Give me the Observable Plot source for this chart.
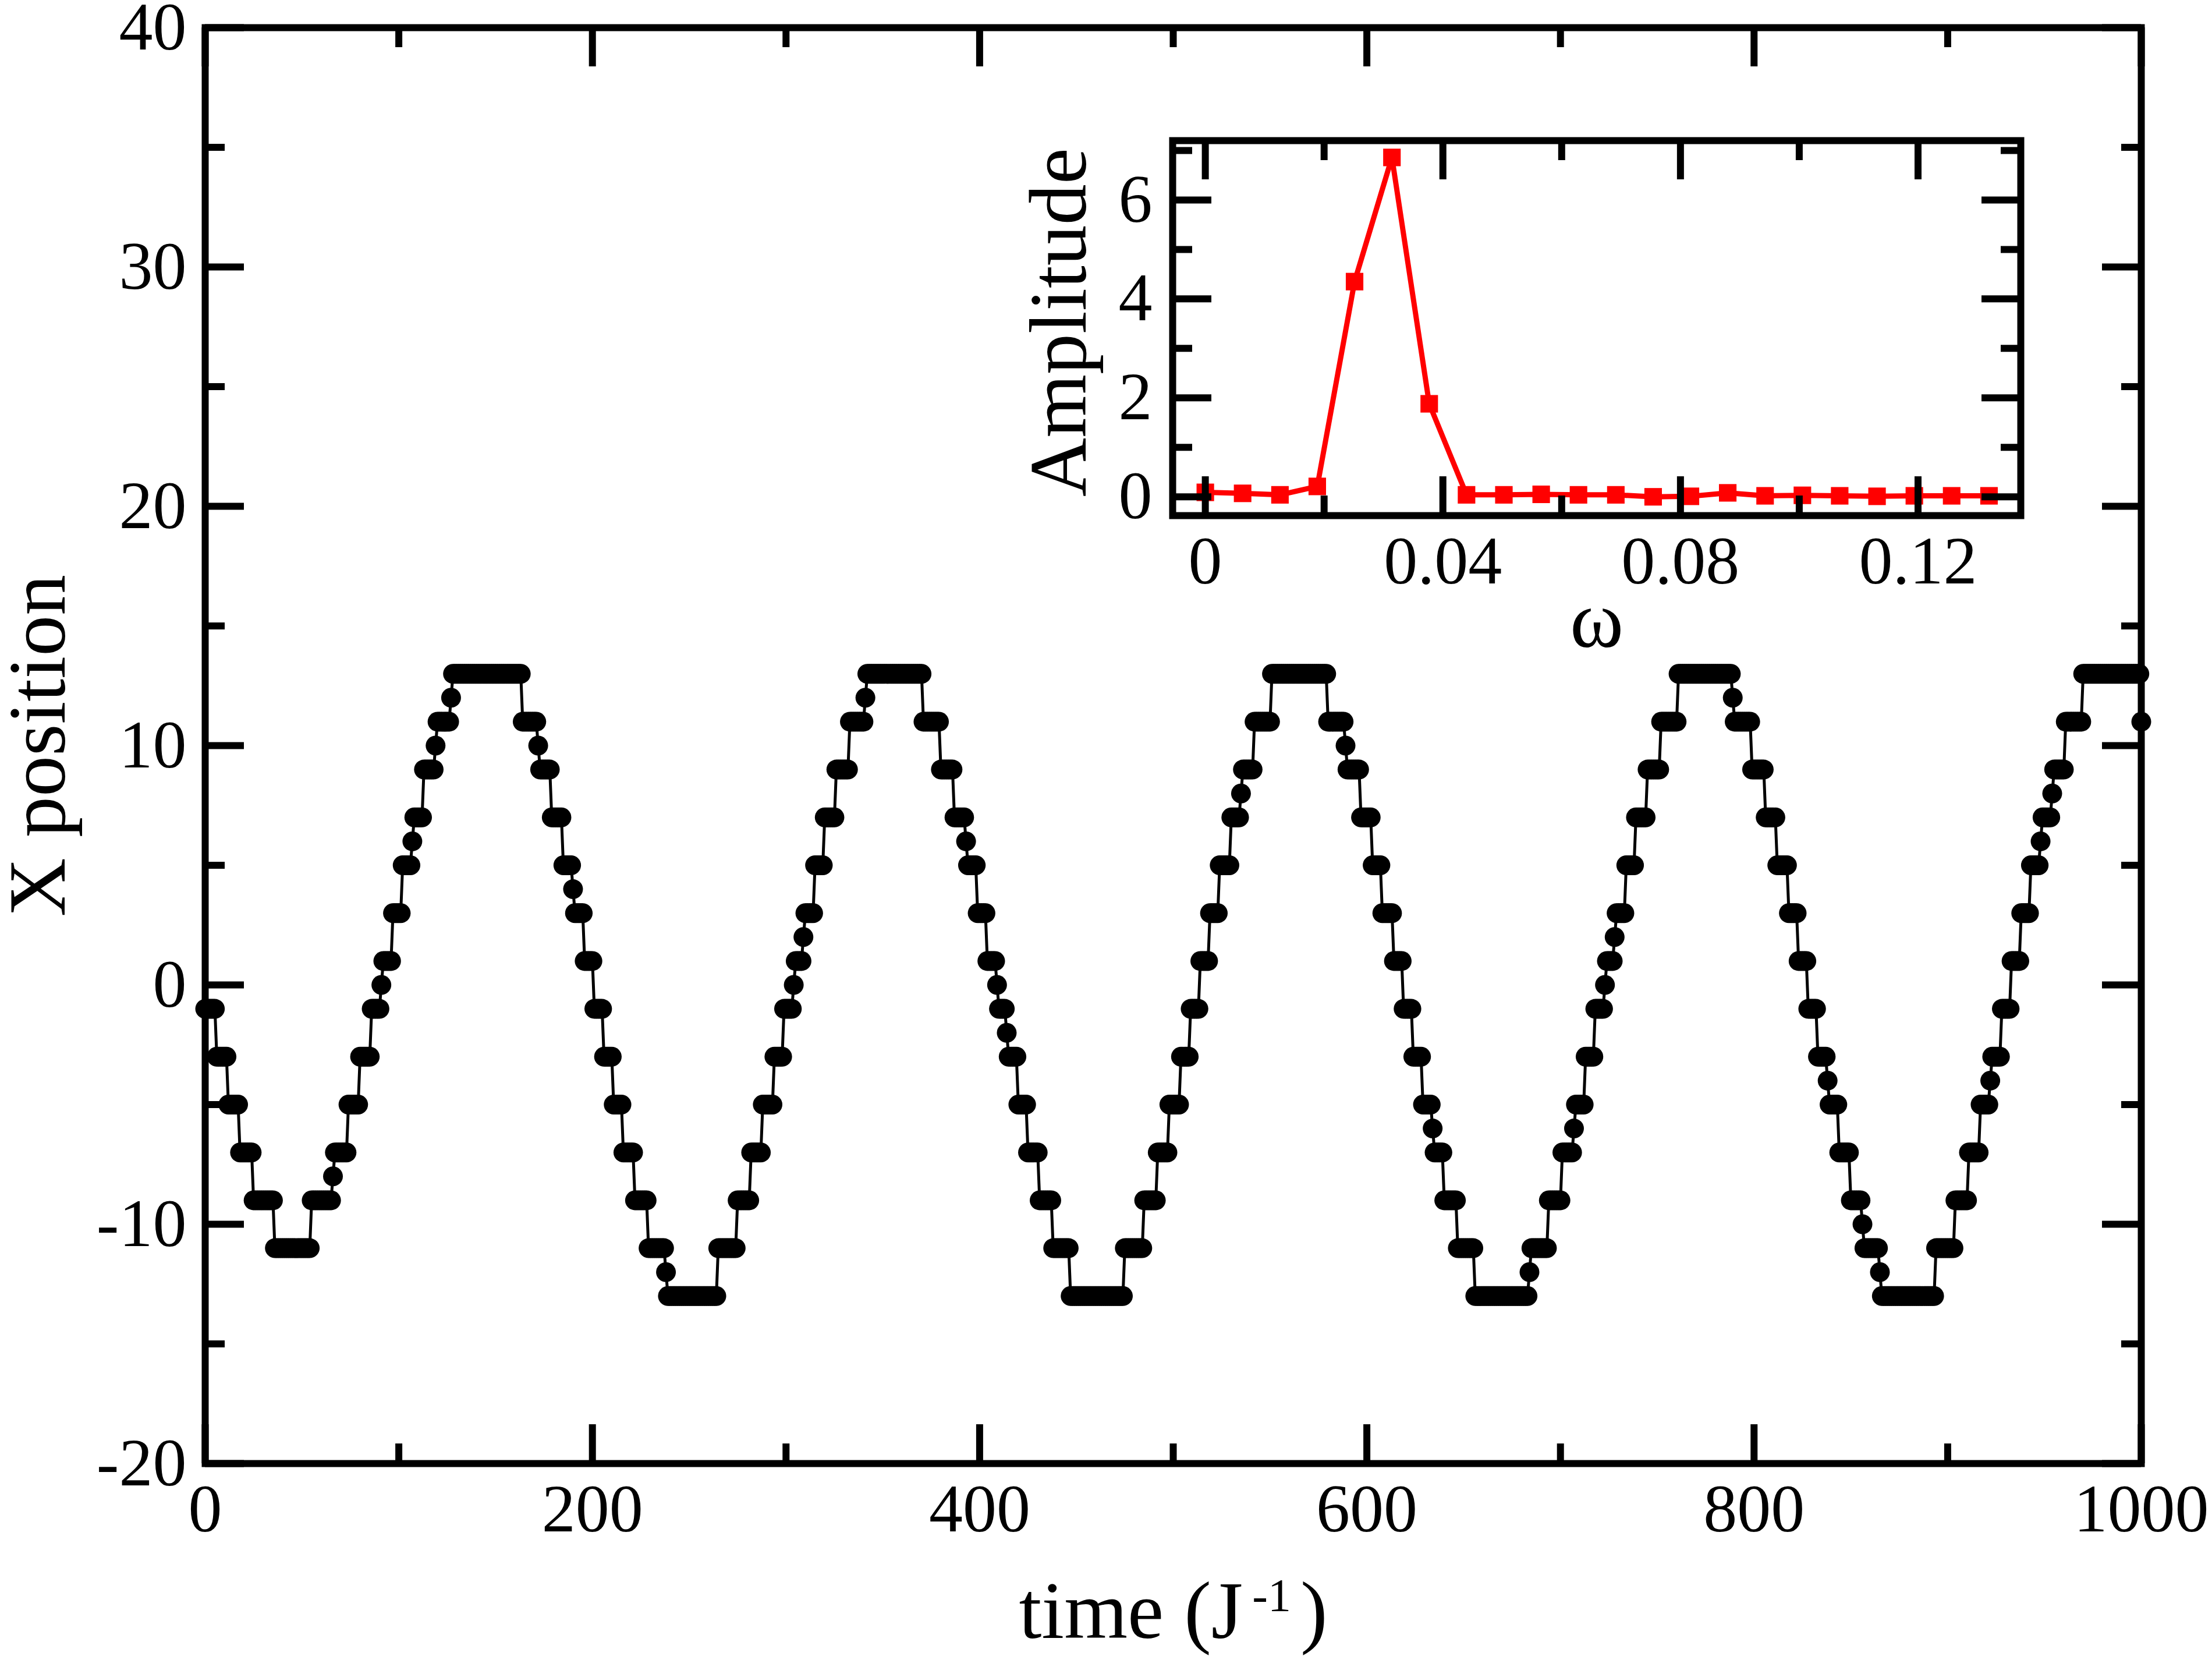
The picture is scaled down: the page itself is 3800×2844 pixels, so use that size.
<!DOCTYPE html>
<html>
<head>
<meta charset="utf-8">
<script src="https://cdn.jsdelivr.net/npm/d3@7"></script>
<script src="https://cdn.jsdelivr.net/npm/@observablehq/plot@0.6"></script>
<style>
  html, body { margin: 0; padding: 0; background: #fff; }
  #chart { position: relative; width: 3800px; height: 2844px; background: #fff; }
  #inset { position: absolute; left: 1700px; top: 150px; }
</style>
</head>
<body>
<div id="chart"></div>
<script>
// Trajectory of the X position, run-length encoded:
// the position holds runLevel[i] from time runStart[i] until the next run starts.
const runStart = [
  0, 6, 12, 18, 25, 36, 55, 66, 67, 74, 80, 86, 91, 92, 97, 102, 107, 108, 113, 119, 120, 127, 128,
  164, 172, 173, 179, 185, 190, 191, 196, 201, 206, 211, 216, 222, 229, 238, 239,
  265, 275, 282, 288, 294, 299, 304, 305, 309, 310, 315, 320, 326, 333, 341, 342,
  371, 380, 387, 393, 394, 399, 404, 409, 410, 414, 415, 420, 425, 431, 438, 447,
  475, 485, 492, 498, 504, 509, 514, 519, 524, 530, 535, 536, 542, 551,
  580, 589, 590, 597, 603, 608, 614, 619, 624, 629, 634, 635, 640, 647, 656,
  684, 685, 694, 701, 707, 708, 713, 718, 723, 724, 728, 729, 734, 739, 745, 752, 761,
  789, 790, 799, 806, 812, 818, 823, 828, 833, 838, 839, 844, 850, 856, 857, 865, 866,
  894, 904, 911, 917, 922, 923, 928, 933, 938, 943, 948, 949, 954, 955, 961, 970, 1000
];
const runLevel = [
  -1, -3, -5, -7, -9, -11, -9, -8, -7, -5, -3, -1, 0, 1, 3, 5, 6, 7, 9, 10, 11, 12, 13,
  11, 10, 9, 7, 5, 4, 3, 1, -1, -3, -5, -7, -9, -11, -12, -13,
  -11, -9, -7, -5, -3, -1, 0, 1, 2, 3, 5, 7, 9, 11, 12, 13,
  11, 9, 7, 6, 5, 3, 1, 0, -1, -2, -3, -5, -7, -9, -11, -13,
  -11, -9, -7, -5, -3, -1, 1, 3, 5, 7, 8, 9, 11, 13,
  11, 10, 9, 7, 5, 3, 1, -1, -3, -5, -6, -7, -9, -11, -13,
  -12, -11, -9, -7, -6, -5, -3, -1, 0, 1, 2, 3, 5, 7, 9, 11, 13,
  12, 11, 9, 7, 5, 3, 1, -1, -3, -4, -5, -7, -9, -10, -11, -12, -13,
  -11, -9, -7, -5, -4, -3, -1, 1, 3, 5, 6, 7, 8, 9, 11, 13, 11
];
const timeEnd = 1000;

// Fourier spectrum of the trajectory (inset)
const omega = [0, 0.00628, 0.01257, 0.01885, 0.02513, 0.03142, 0.03770, 0.04398, 0.05027, 0.05655, 0.06283,
  0.06912, 0.07540, 0.08168, 0.08796, 0.09425, 0.10053, 0.10681, 0.11310, 0.11938, 0.12566, 0.13195];
const amplitude = [0.09, 0.07, 0.04, 0.21, 4.35, 6.86, 1.88, 0.04, 0.04, 0.05, 0.04,
  0.04, 0.0, 0.01, 0.08, 0.02, 0.03, 0.02, 0.01, 0.02, 0.02, 0.02];

// Axis ticks
const timeMajor = [0, 200, 400, 600, 800, 1000];
const timeMinor = [100, 300, 500, 700, 900];
const posMajor = [-20, -10, 0, 10, 20, 30, 40];
const posMinor = [-15, -5, 5, 15, 25, 35];
const omegaMajor = [0, 0.04, 0.08, 0.12];
const omegaMinor = [0.02, 0.06, 0.10];
const ampMajor = [0, 2, 4, 6];
const ampMinor = [1, 3, 5, 7];

// One sample per time unit
const trajectory = [];
for (let i = 0; i < runStart.length; i++) {
  const stop = i + 1 < runStart.length ? runStart[i + 1] - 1 : timeEnd;
  for (let t = runStart[i]; t <= stop; t++) trajectory.push({t, x: runLevel[i]});
}
const spectrum = omega.map((w, i) => ({w, a: amplitude[i]}));

const FONT = "'Liberation Serif', 'Times New Roman', serif";
const LINE = 12;      // frame and tick stroke width
const MAJOR = 67;     // major tick length
const MINOR = 34;     // minor tick length

// Ticks drawn inward on all four sides of the frame
function inwardTicks(xMaj, xMin, yMaj, yMin, plotW, plotH) {
  const tx = (vals, len) => [
    Plot.tickX(vals, {x: d => d, insetTop: plotH - len, strokeWidth: LINE, stroke: "black"}),
    Plot.tickX(vals, {x: d => d, insetBottom: plotH - len, strokeWidth: LINE, stroke: "black"})
  ];
  const ty = (vals, len) => [
    Plot.tickY(vals, {y: d => d, insetRight: plotW - len, strokeWidth: LINE, stroke: "black"}),
    Plot.tickY(vals, {y: d => d, insetLeft: plotW - len, strokeWidth: LINE, stroke: "black"})
  ];
  return [...tx(xMaj, MAJOR), ...tx(xMin, MINOR), ...ty(yMaj, MAJOR), ...ty(yMin, MINOR)];
}

// Main panel
const M = {left: 352, right: 122, top: 47, bottom: 331};
const W = 3800, H = 2844;
const main = Plot.plot({
  width: W, height: H,
  marginLeft: M.left, marginRight: M.right, marginTop: M.top, marginBottom: M.bottom,
  x: {domain: [0, 1000]},
  y: {domain: [-20, 40]},
  style: {fontFamily: FONT, background: "white", color: "black"},
  marks: [
    Plot.line(trajectory, {x: "t", y: "x", stroke: "black", strokeWidth: 5}),
    Plot.dot(trajectory, {x: "t", y: "x", r: 17, fill: "black"}),
    ...inwardTicks(timeMajor, timeMinor, posMajor, posMinor, W - M.left - M.right, H - M.top - M.bottom),
    Plot.frame({stroke: "black", strokeWidth: LINE}),
    Plot.axisX({ticks: timeMajor, tickSize: 0, tickPadding: 34, fontSize: 116,
      tickFormat: d => String(d), label: null}),
    Plot.axisY({ticks: posMajor, tickSize: 0, tickPadding: 32, fontSize: 116,
      tickFormat: d => String(d), label: null}),
    Plot.text(["X position"], {text: d => d, frameAnchor: "left", dx: -286, rotate: -90,
      textAnchor: "middle", lineAnchor: "middle", fontSize: 140, fill: "black"}),
    Plot.text(["time (J-1)"], {text: d => d, frameAnchor: "bottom", dy: 255,
      textAnchor: "middle", lineAnchor: "middle", fontSize: 140, fill: "black"})
  ]
});

// Superscript exponent in the time label
const svgNS = "http://www.w3.org/2000/svg";
const timeLabel = [...main.querySelectorAll("text")].find(n => n.textContent === "time (J-1)");
if (timeLabel) {
  timeLabel.textContent = "time (J";
  const sup = document.createElementNS(svgNS, "tspan");
  sup.setAttribute("dx", "16");
  sup.setAttribute("dy", "-46");
  sup.setAttribute("font-size", "80");
  sup.textContent = "-1";
  const close = document.createElementNS(svgNS, "tspan");
  close.setAttribute("dx", "16");
  close.setAttribute("dy", "46");
  close.textContent = ")";
  timeLabel.append(sup, close);
}

// Inset: amplitude spectrum
const IM = {left: 314, right: 89, top: 91, bottom: 255};
const IW = 1860, IH = 990;
const inset = Plot.plot({
  width: IW, height: IH,
  marginLeft: IM.left, marginRight: IM.right, marginTop: IM.top, marginBottom: IM.bottom,
  x: {domain: [-0.0055, 0.1373]},
  y: {domain: [-0.38, 7.2]},
  style: {fontFamily: FONT, background: "transparent", color: "black", overflow: "visible"},
  marks: [
    Plot.line(spectrum, {x: "w", y: "a", stroke: "#ff0000", strokeWidth: 9}),
    Plot.dot(spectrum, {x: "w", y: "a", symbol: "square", r: 17, fill: "#ff0000"}),
    ...inwardTicks(omegaMajor, omegaMinor, ampMajor, ampMinor, IW - IM.left - IM.right, IH - IM.top - IM.bottom),
    Plot.frame({stroke: "black", strokeWidth: LINE}),
    Plot.axisX({ticks: omegaMajor, tickSize: 0, tickPadding: 34, fontSize: 116,
      tickFormat: d => String(d), label: null}),
    Plot.axisY({ticks: ampMajor, tickSize: 0, tickPadding: 35, fontSize: 116,
      tickFormat: d => String(d), label: null}),
    Plot.text(["Amplitude"], {text: d => d, frameAnchor: "left", dx: -194, dy: -10, rotate: -90,
      textAnchor: "middle", lineAnchor: "middle", fontSize: 140, fill: "black"}),
    Plot.text(["ω"], {text: d => d, frameAnchor: "bottom", dy: 181,
      textAnchor: "middle", lineAnchor: "middle", fontSize: 140, fill: "black"})
  ]
});

const chart = document.getElementById("chart");
chart.append(main);
const holder = document.createElement("div");
holder.id = "inset";
holder.append(inset);
chart.append(holder);
</script>
</body>
</html>
